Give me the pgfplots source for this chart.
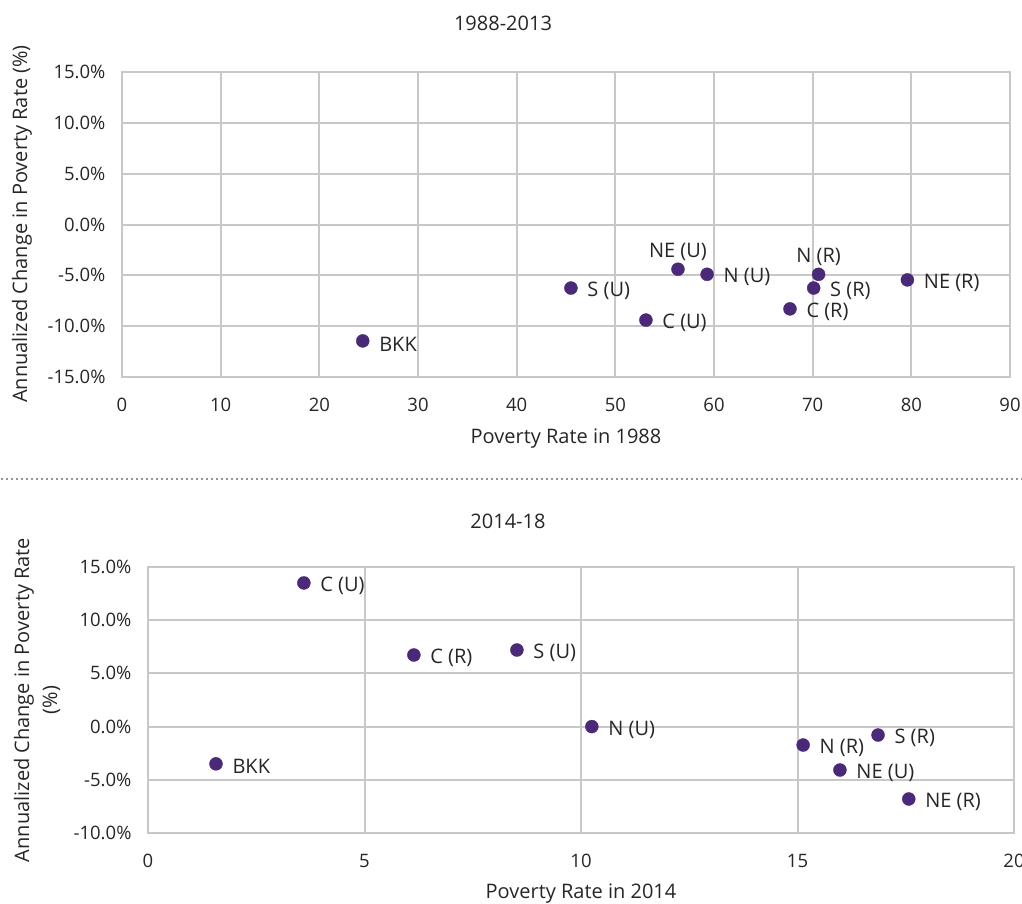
\documentclass[border=0pt]{standalone}
\usepackage{pgfplots}
\pgfplotsset{compat=1.18}
\usepackage{fontspec}
\setmainfont{Open Sans}
\definecolor{pt}{HTML}{4A2A78}
\definecolor{gridc}{HTML}{C8C8C8}
\definecolor{txt}{HTML}{262626}
\newcommand{\fs}{\fontsize{20}{24}\selectfont}
\newcommand{\tfs}{\fontsize{18.5}{22}\selectfont}
\pgfplotsset{
  myax/.style={
    scale only axis,
    axis line style={gridc, line width=2pt},
    grid=major,
    major grid style={gridc, line width=2pt},
    tick style={draw=none},
    ticklabel style={font=\tfs, text=txt},
    /pgf/number format/assume math mode=true,
    yticklabel={\pgfmathprintnumber[fixed,fixed zerofill,precision=1]{\tick}\%},
    xticklabel={\pgfmathprintnumber[fixed,precision=0]{\tick}},
    scaled ticks=false,
    clip=false,
    mark size=6.5pt,
    nodes near coords style={font=\fs, text=txt},
    xticklabel style={yshift=-18pt}, yticklabel style={xshift=-13pt},
  },
}
\begin{document}
\begin{tikzpicture}
\useasboundingbox (0pt,0pt) rectangle (1022pt,-904pt);
% top chart
\node[font=\fs, text=txt] at (503pt,-23pt) {1988-2013};
\begin{axis}[myax, at={(122pt,-377pt)}, anchor=south west, width=888pt, height=305pt,
  xmin=0, xmax=90, ymin=-15, ymax=15, xtick={0,10,...,90}, ytick={-15,-10,...,15}]
\addplot[only marks, mark=*, pt, point meta=explicit symbolic, nodes near coords,
  nodes near coords style={anchor=west, xshift=13pt, yshift=-3pt}]
  table[meta=lab] {
x y lab
24.4 -11.45 BKK
45.5 -6.25 {S (U)}
59.3 -4.9 {N (U)}
53.1 -9.4 {C (U)}
67.7 -8.3 {C (R)}
70.1 -6.25 {S (R)}
79.6 -5.45 {NE (R)}
};
\addplot[only marks, mark=*, pt, point meta=explicit symbolic, nodes near coords,
  nodes near coords style={anchor=south, yshift=5pt}]
  table[meta=lab] {
x y lab
56.35 -4.4 {NE (U)}
70.6 -4.9 {N (R)}
};
\end{axis}
\node[font=\fs, text=txt] at (566pt,-439pt) {Poverty Rate in 1988};
\node[font=\fs, text=txt, rotate=90] at (22pt,-224pt) {Annualized Change in Poverty Rate (\%)};
% separator
\draw[txt, line width=1.6pt, line cap=round, dash pattern=on 0pt off 5pt] (2pt,-479pt) -- (1022pt,-479pt);
% bottom chart
\node[font=\fs, text=txt] at (508pt,-521pt) {2014-18};
\begin{axis}[myax, at={(148pt,-833pt)}, anchor=south west, width=866pt, height=266pt,
  xmin=0, xmax=20, ymin=-10, ymax=15, xtick={0,5,...,20}, ytick={-10,-5,...,15}]
\addplot[only marks, mark=*, pt, point meta=explicit symbolic, nodes near coords,
  nodes near coords style={anchor=west, xshift=13pt, yshift=-3pt}]
  table[meta=lab] {
x y lab
3.6 13.5 {C (U)}
6.14 6.73 {C (R)}
8.52 7.2 {S (U)}
10.25 0.0 {N (U)}
1.57 -3.5 BKK
15.13 -1.73 {N (R)}
16.86 -0.79 {S (R)}
15.98 -4.08 {NE (U)}
17.57 -6.8 {NE (R)}
};
\end{axis}
\node[font=\fs, text=txt] at (581pt,-894pt) {Poverty Rate in 2014};
\node[font=\fs, text=txt, rotate=90, align=center] at (37pt,-700pt) {Annualized Change in Poverty Rate\\[4pt](\%)};
\end{tikzpicture}
\end{document}
